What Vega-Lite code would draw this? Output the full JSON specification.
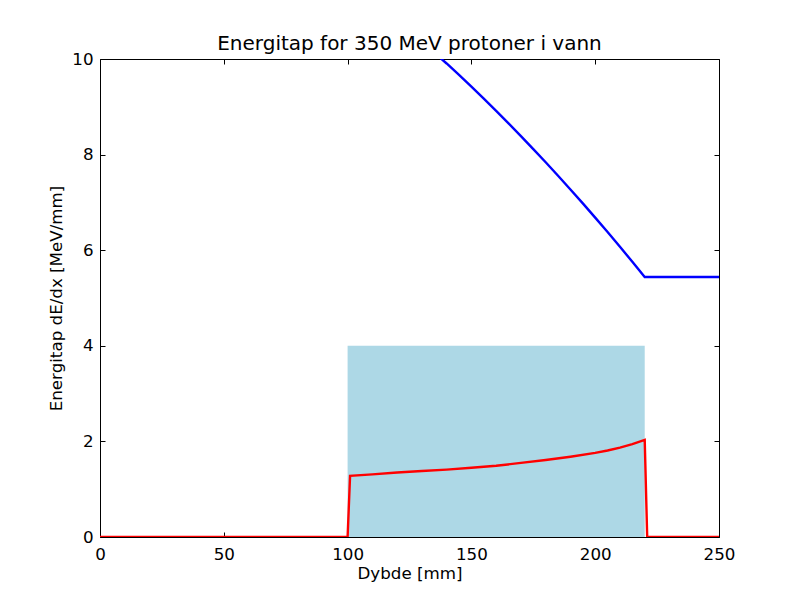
{
  "$schema": "https://vega.github.io/schema/vega-lite/v6.json",
  "width": 619,
  "height": 478,
  "autosize": {"type": "none"},
  "padding": {"left": 100, "top": 59, "right": 81, "bottom": 61},
  "background": "white",
  "config": {
    "font": "DejaVu Sans",
    "view": {"stroke": "black", "strokeWidth": 1},
    "axis": {
      "grid": false,
      "domain": false,
      "tickColor": "black",
      "tickSize": -5,
      "labelFlush": false,
      "labelColor": "black",
      "labelFontSize": 16.7,
      "labelFont": "DejaVu Sans",
      "titleFont": "DejaVu Sans",
      "titleFontSize": 16.7,
      "titleFontWeight": "normal",
      "titleColor": "black"
    }
  },
  "title": {
    "text": "Energitap for 350 MeV protoner i vann",
    "font": "DejaVu Sans",
    "fontSize": 20,
    "fontWeight": "normal",
    "color": "black",
    "offset": -3
  },
  "datasets": {
    "box": [{"x0": 100, "x1": 220, "y0": 0, "y1": 4}],
    "lines": [
      {"series": "red", "x": 0, "y": 0},
      {"series": "red", "x": 100, "y": 0},
      {"series": "red", "x": 101, "y": 1.28},
      {"series": "red", "x": 110, "y": 1.31},
      {"series": "red", "x": 120, "y": 1.35},
      {"series": "red", "x": 130, "y": 1.38},
      {"series": "red", "x": 140, "y": 1.41},
      {"series": "red", "x": 150, "y": 1.45},
      {"series": "red", "x": 160, "y": 1.49},
      {"series": "red", "x": 170, "y": 1.55},
      {"series": "red", "x": 180, "y": 1.61},
      {"series": "red", "x": 190, "y": 1.68},
      {"series": "red", "x": 200, "y": 1.76},
      {"series": "red", "x": 205, "y": 1.81},
      {"series": "red", "x": 210, "y": 1.87},
      {"series": "red", "x": 215, "y": 1.945},
      {"series": "red", "x": 220, "y": 2.03},
      {"series": "red", "x": 221, "y": 0},
      {"series": "red", "x": 250, "y": 0},
      {"series": "blue", "x": 120, "y": 10.81},
      {"series": "blue", "x": 140, "y": 9.906},
      {"series": "blue", "x": 145, "y": 9.666},
      {"series": "blue", "x": 150, "y": 9.42},
      {"series": "blue", "x": 155, "y": 9.17},
      {"series": "blue", "x": 160, "y": 8.914},
      {"series": "blue", "x": 165, "y": 8.654},
      {"series": "blue", "x": 170, "y": 8.388},
      {"series": "blue", "x": 175, "y": 8.116},
      {"series": "blue", "x": 180, "y": 7.84},
      {"series": "blue", "x": 185, "y": 7.558},
      {"series": "blue", "x": 190, "y": 7.271},
      {"series": "blue", "x": 195, "y": 6.979},
      {"series": "blue", "x": 200, "y": 6.681},
      {"series": "blue", "x": 205, "y": 6.379},
      {"series": "blue", "x": 210, "y": 6.071},
      {"series": "blue", "x": 215, "y": 5.758},
      {"series": "blue", "x": 220, "y": 5.44},
      {"series": "blue", "x": 250, "y": 5.44}
    ]
  },
  "layer": [
    {
      "data": {"name": "box"},
      "mark": {"type": "rect", "color": "#add8e6", "opacity": 1},
      "encoding": {
        "x": {"field": "x0", "type": "quantitative", "scale": {"domain": [0, 250], "nice": false},
              "axis": {"orient": "bottom", "title": "Dybde [mm]", "values": [0, 50, 100, 150, 200, 250], "labelPadding": 14, "titlePadding": 3}},
        "x2": {"field": "x1"},
        "y": {"field": "y0", "type": "quantitative", "scale": {"domain": [0, 10], "nice": false},
              "axis": {"orient": "left", "title": "Energitap dE/dx [MeV/mm]", "values": [0, 2, 4, 6, 8, 10], "labelPadding": 12, "titlePadding": 6}},
        "y2": {"field": "y1"}
      }
    },
    {
      "data": {"name": "lines"},
      "mark": {"type": "line", "strokeWidth": 2.4, "clip": true},
      "encoding": {
        "x": {"field": "x", "type": "quantitative", "scale": {"domain": [0, 250], "nice": false},
              "axis": {"orient": "top", "labels": false, "title": null, "values": [0, 50, 100, 150, 200, 250]}},
        "y": {"field": "y", "type": "quantitative", "scale": {"domain": [0, 10], "nice": false},
              "axis": {"orient": "right", "labels": false, "title": null, "values": [0, 2, 4, 6, 8, 10]}},
        "color": {"field": "series", "type": "nominal", "scale": {"domain": ["red", "blue"], "range": ["#ff0000", "#0000ff"]}, "legend": null},
        "order": {"field": "x", "type": "quantitative"}
      }
    }
  ],
  "resolve": {"axis": {"x": "independent", "y": "independent"}}
}
